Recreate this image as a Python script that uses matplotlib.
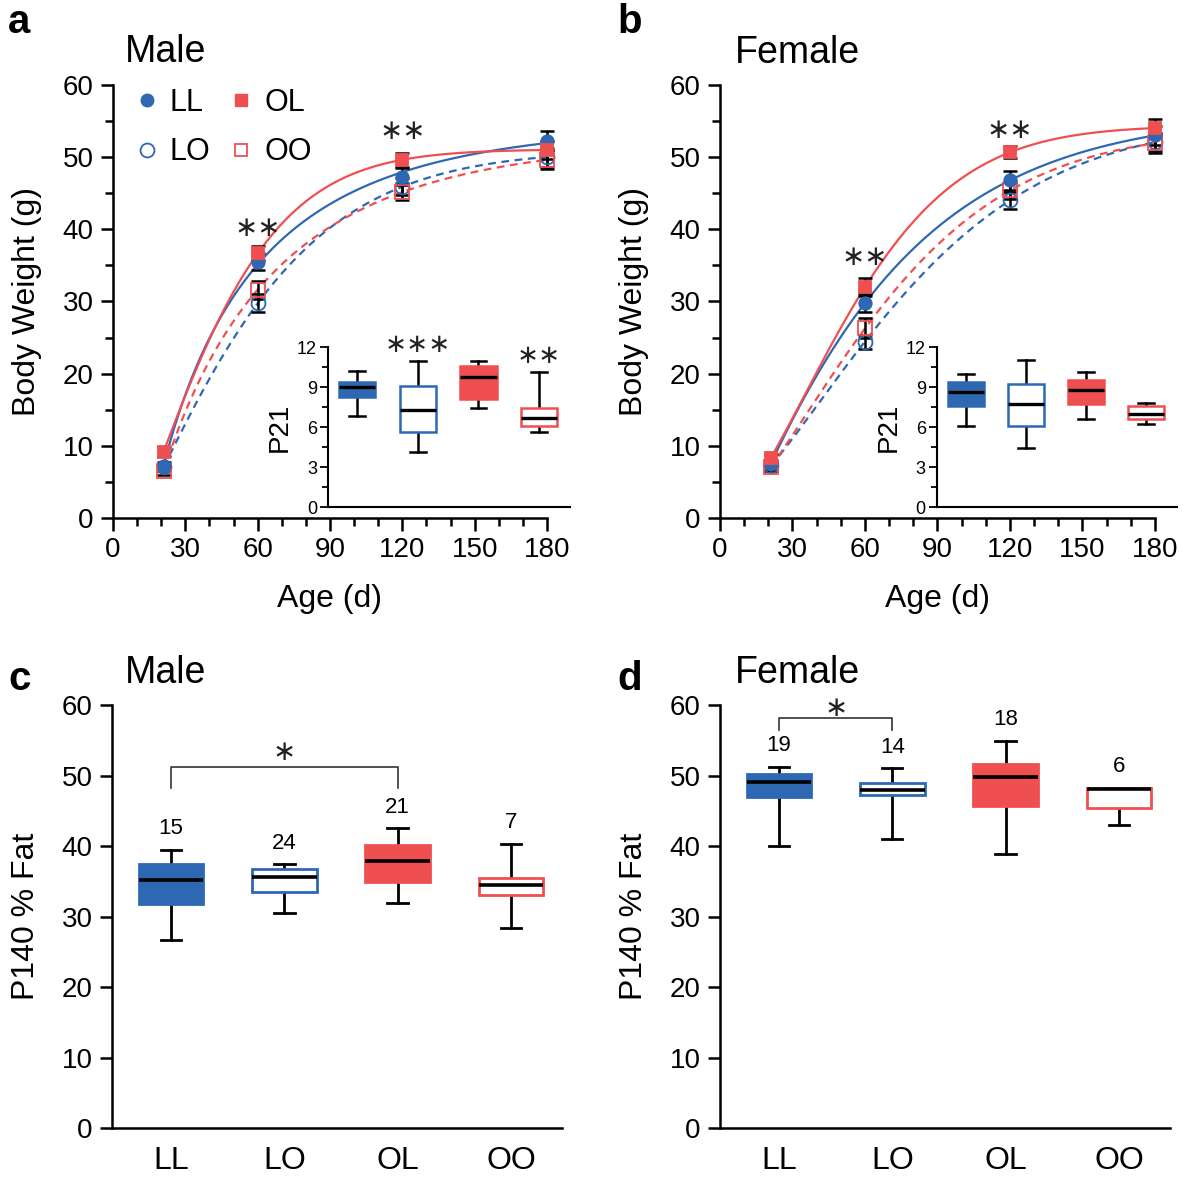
import numpy as np
import matplotlib.pyplot as plt
from matplotlib.lines import Line2D
from matplotlib.ticker import MultipleLocator

plt.rcParams['font.family'] = ['Liberation Sans', 'DejaVu Sans']

BLUE = '#2f68b2'
RED = '#f04f51'

# ---- growth curves (age in days, body weight in g) ----
ages = [21, 60, 120, 180]

male_LL = [7.2, 35.5, 47.3, 52.3]
male_LO = [7.0, 29.8, 45.9, 50.0]
male_OL = [9.2, 36.7, 49.6, 51.0]
male_OO = [6.5, 31.6, 45.2, 49.6]
male_LL_err = [0.6, 1.2, 1.2, 1.3]
male_LO_err = [0.5, 1.2, 1.2, 1.3]
male_OL_err = [0.6, 1.0, 1.0, 1.2]
male_OO_err = [0.5, 1.3, 1.2, 1.3]

female_LL = [7.5, 29.8, 46.8, 53.0]
female_LO = [7.2, 24.4, 44.0, 52.1]
female_OL = [8.3, 32.0, 50.7, 54.0]
female_OO = [7.0, 26.3, 45.4, 51.9]
female_LL_err = [0.5, 1.3, 1.3, 1.3]
female_LO_err = [0.5, 1.0, 1.2, 1.3]
female_OL_err = [0.5, 1.2, 0.8, 1.3]
female_OO_err = [0.5, 1.4, 1.2, 1.3]

# significance marks on growth curves (age, y)
male_sig = [(60, 40.2, '∗∗'), (120, 53.6, '∗∗')]
female_sig = [(60, 36.2, '∗∗'), (120, 53.8, '∗∗')]

groups = ['LL', 'LO', 'OL', 'OO']

# ---- P21 body weight boxes: (whislo, q1, med, q3, whishi) ----
p21_male = [(6.8, 8.25, 9.0, 9.4, 10.2),
            (4.15, 5.65, 7.3, 9.05, 10.95),
            (7.4, 8.1, 9.75, 10.55, 10.95),
            (5.65, 6.1, 6.7, 7.45, 10.1)]
p21_female = [(6.1, 7.55, 8.65, 9.4, 9.95),
              (4.4, 6.05, 7.7, 9.2, 11.05),
              (6.6, 7.75, 8.75, 9.55, 10.1),
              (6.2, 6.6, 7.0, 7.6, 7.8)]
p21_male_sig = [(2, '∗∗∗'), (4, '∗∗')]

# ---- P140 % fat boxes ----
fat_male = [(26.7, 31.8, 35.2, 37.5, 39.5),
            (30.5, 33.5, 35.6, 36.8, 37.4),
            (31.9, 34.9, 37.9, 40.2, 42.5),
            (28.4, 33.0, 34.5, 35.4, 40.3)]
fat_female = [(40.0, 47.0, 49.1, 50.2, 51.2),
              (41.0, 47.2, 47.9, 48.9, 51.0),
              (38.9, 45.7, 49.8, 51.7, 54.9),
              (43.0, 45.4, 48.1, 48.3, 48.3)]
fat_male_n = [15, 24, 21, 7]
fat_female_n = [19, 14, 18, 6]
# brackets: (group a, group b, bar y, leg end y, star y)
fat_male_bracket = (1, 3, 51.2, 48.2, 53.3)
fat_female_bracket = (1, 2, 58.1, 56.5, 59.6)


def fit_curve(x, y):
    # saturating growth fit: y = a - b*exp(-k*x**p), a and b by least squares
    x = np.asarray(x, float)
    y = np.asarray(y, float)
    ks = np.logspace(-4, -0.3, 400)
    best = None
    for p in np.linspace(0.7, 1.6, 46):
        E = np.exp(-ks[:, None] * x[None, :] ** p)
        Em = E.mean(axis=1, keepdims=True)
        var = ((E - Em) ** 2).sum(axis=1)
        cov = ((E - Em) * (y - y.mean())).sum(axis=1)
        slope = cov / np.where(var > 1e-12, var, np.nan)
        pred = y.mean() + slope[:, None] * (E - Em)
        err = ((pred - y) ** 2).sum(axis=1)
        i = np.nanargmin(err)
        if best is None or err[i] < best[0]:
            best = (err[i], ks[i], p, slope[i], Em[i, 0])
    _, k, p, slope, em = best
    xs = np.linspace(x[0], x[-1], 200)
    return xs, y.mean() + slope * (np.exp(-k * xs ** p) - em)


def style_axis(ax, lw=1.8):
    for s in ['top', 'right']:
        ax.spines[s].set_visible(False)
    for s in ['left', 'bottom']:
        ax.spines[s].set_linewidth(lw)


def growth_panel(ax, series, sig):
    style_axis(ax)
    order = ['LO', 'OO', 'LL', 'OL']
    for name in order:
        y, err = series[name]
        color = BLUE if name[0] == 'L' else RED
        solid = name[1] == 'L'
        xs, ys = fit_curve(ages, y)
        ax.plot(xs, ys, color=color, lw=1.6,
                ls='-' if solid else (0, (3.5, 2.5)), zorder=2)
    for name in order:
        y, err = series[name]
        color = BLUE if name[0] == 'L' else RED
        solid = name[1] == 'L'
        marker = 'o' if name[0] == 'L' else 's'
        ax.errorbar(ages, y, yerr=err, fmt='none', ecolor='black',
                    elinewidth=1.8, capsize=5, capthick=1.8, zorder=3,
                    clip_on=False)
        ax.plot(ages, y, ls='none', marker=marker, ms=9 if solid else 10,
                mfc=color if solid else 'none', mec=color, mew=1.3,
                zorder=4, clip_on=False)
    for x, y, s in sig:
        ax.text(x, y, s, ha='center', va='center', fontsize=20,
                family=['DejaVu Sans'], color='#222222')
    ax.set_xlim(0, 180)
    ax.set_ylim(0, 60)
    ax.xaxis.set_major_locator(MultipleLocator(30))
    ax.xaxis.set_minor_locator(MultipleLocator(10))
    ax.yaxis.set_major_locator(MultipleLocator(10))
    ax.yaxis.set_minor_locator(MultipleLocator(5))
    ax.tick_params(which='major', length=9, width=1.8, labelsize=20, pad=5)
    ax.tick_params(which='minor', length=6, width=1.8)
    ax.set_xlabel('Age (d)', fontsize=23, labelpad=15)
    ax.set_ylabel('Body Weight (g)', fontsize=23, labelpad=15)


def make_stats(boxes):
    stats = []
    for lo, q1, med, q3, hi in boxes:
        stats.append(dict(whislo=lo, q1=q1, med=med, q3=q3, whishi=hi,
                          fliers=[]))
    return stats


def draw_boxes(ax, boxes, width, capwidth, lw):
    bp = ax.bxp(make_stats(boxes), positions=[1, 2, 3, 4], widths=width,
                capwidths=capwidth, patch_artist=True, showfliers=False,
                medianprops=dict(color='black', lw=lw + 0.6),
                whiskerprops=dict(color='black', lw=lw),
                capprops=dict(color='black', lw=lw))
    for i, patch in enumerate(bp['boxes']):
        color = BLUE if groups[i][0] == 'L' else RED
        filled = groups[i][1] == 'L'
        patch.set_facecolor(color if filled else 'white')
        patch.set_edgecolor(color)
        patch.set_linewidth(lw)
        patch.set_zorder(3)
    for m in bp['medians']:
        m.set_zorder(4)


def inset_panel(ax, boxes, sig):
    style_axis(ax, lw=1.5)
    draw_boxes(ax, boxes, 0.6, 0.26, 1.8)
    ax.set_xlim(0.52, 4.51)
    ax.set_ylim(0, 12)
    ax.set_xticks([])
    ax.yaxis.set_major_locator(MultipleLocator(3))
    ax.yaxis.set_minor_locator(MultipleLocator(1.5))
    ax.tick_params(which='major', length=6, width=1.3, labelsize=13, pad=2)
    ax.tick_params(which='minor', length=4, width=1.3)
    ax.set_ylabel('P21', fontsize=20, labelpad=3)
    ax.patch.set_alpha(0)
    for pos, s in sig:
        top = boxes[pos - 1][4]
        ax.text(pos, top + 1.2, s, ha='center', va='center', fontsize=19,
                family=['DejaVu Sans'], color='#222222', clip_on=False)


def fat_panel(ax, boxes, counts, bracket):
    style_axis(ax)
    draw_boxes(ax, boxes, 0.57, 0.18, 2.0)
    ax.set_xlim(0.48, 4.45)
    ax.set_ylim(0, 60)
    ax.set_xticks([1, 2, 3, 4])
    ax.set_xticklabels(groups)
    ax.tick_params(axis='x', length=0, labelsize=23, pad=13)
    ax.yaxis.set_major_locator(MultipleLocator(10))
    ax.tick_params(axis='y', length=9, width=1.8, labelsize=20, pad=5)
    ax.set_ylabel('P140 % Fat', fontsize=23, labelpad=15)
    for i, n in enumerate(counts):
        ax.text(i + 1, boxes[i][4] + 3.0, str(n), ha='center', va='center',
                fontsize=16)
    x1, x2, ytop, ylow, ystar = bracket
    ax.plot([x1, x1, x2, x2], [ylow, ytop, ytop, ylow], color='#333333',
            lw=1.2)
    ax.text((x1 + x2) / 2, ystar, '∗', ha='center', va='center',
            fontsize=20, family=['DejaVu Sans'], color='#222222')


fig = plt.figure(figsize=(11.83, 11.77), dpi=100)

ax_a = fig.add_axes([0.0955, 0.5599, 0.3669, 0.3679])
ax_b = fig.add_axes([0.6086, 0.5599, 0.3677, 0.3679])
ax_c = fig.add_axes([0.0947, 0.0416, 0.3804, 0.3594])
ax_d = fig.add_axes([0.6086, 0.0416, 0.3804, 0.3594])
ax_ai = fig.add_axes([0.2773, 0.5692, 0.2046, 0.1359])
ax_bi = fig.add_axes([0.7920, 0.5692, 0.2029, 0.1359])

growth_panel(ax_a, {'LL': (male_LL, male_LL_err), 'LO': (male_LO, male_LO_err),
                    'OL': (male_OL, male_OL_err), 'OO': (male_OO, male_OO_err)},
             male_sig)
growth_panel(ax_b, {'LL': (female_LL, female_LL_err),
                    'LO': (female_LO, female_LO_err),
                    'OL': (female_OL, female_OL_err),
                    'OO': (female_OO, female_OO_err)},
             female_sig)
inset_panel(ax_ai, p21_male, p21_male_sig)
inset_panel(ax_bi, p21_female, [])
fat_panel(ax_c, fat_male, fat_male_n, fat_male_bracket)
fat_panel(ax_d, fat_female, fat_female_n, fat_female_bracket)

# legend in panel a (markers only)
handles = [
    Line2D([], [], ls='none', marker='o', ms=9, color=BLUE, label='LL'),
    Line2D([], [], ls='none', marker='o', ms=10, mfc='none', mec=BLUE,
           mew=1.3, label='LO'),
    Line2D([], [], ls='none', marker='s', ms=9, color=RED, label='OL'),
    Line2D([], [], ls='none', marker='s', ms=9, mfc='none', mec=RED,
           mew=1.3, label='OO'),
]
ax_a.legend(handles=handles, ncol=2, loc='upper left',
            bbox_to_anchor=(0.05, 0.994), frameon=False, fontsize=22,
            handlelength=0.8, handletextpad=0.35, columnspacing=0.6,
            labelspacing=0.65, borderpad=0, borderaxespad=0)

# panel titles
ax_a.text(0.028, 1.053, 'Male', transform=ax_a.transAxes, fontsize=27,
          va='baseline')
ax_b.text(0.034, 1.05, 'Female', transform=ax_b.transAxes, fontsize=27,
          va='baseline')
ax_c.text(0.029, 1.052, 'Male', transform=ax_c.transAxes, fontsize=27,
          va='baseline')
ax_d.text(0.033, 1.052, 'Female', transform=ax_d.transAxes, fontsize=27,
          va='baseline')

# panel letters
for lx, ly, letter in [(8, 33, 'a'), (617, 33, 'b'), (8, 690, 'c'),
                       (617, 690, 'd')]:
    fig.text(lx / 1183, 1 - ly / 1177, letter, fontsize=29,
             fontweight='bold', va='baseline')

plt.savefig('out.png', dpi=100)
